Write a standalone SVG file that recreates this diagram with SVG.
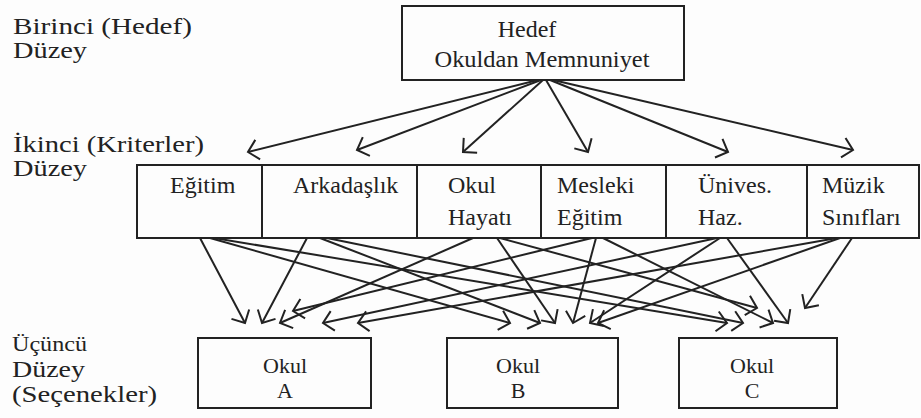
<svg xmlns="http://www.w3.org/2000/svg" width="921" height="418" viewBox="0 0 921 418" font-family="'Liberation Serif', 'Times New Roman', Tinos, serif">
<style>
text{font-family:'Liberation Serif','Times New Roman',Tinos,serif;fill:#222}
.lv{font-size:23px}
.nd{font-size:24px}
.alt{font-size:22px}
.box{fill:none;stroke:#222;stroke-width:2}
.c line{stroke:#222;stroke-width:2;marker-end:url(#ah)}
</style>
<defs>
<marker id="ah" viewBox="0 0 14 24" refX="12" refY="12" markerWidth="14" markerHeight="24" orient="auto" markerUnits="userSpaceOnUse">
<path d="M2,2 L12,12 L2,22" fill="none" stroke="#222" stroke-width="2"/>
</marker>
</defs>
<rect width="921" height="418" fill="#fdfdfd"/>
<g id="levels" class="lv">
<text x="13" y="34" textLength="179" lengthAdjust="spacingAndGlyphs">Birinci (Hedef)</text>
<text x="13" y="58" textLength="74" lengthAdjust="spacingAndGlyphs">Düzey</text>
<text x="13" y="152" textLength="191" lengthAdjust="spacingAndGlyphs">İkinci (Kriterler)</text>
<text x="13" y="176" textLength="74" lengthAdjust="spacingAndGlyphs">Düzey</text>
<text x="12" y="351" font-size="20" textLength="75" lengthAdjust="spacingAndGlyphs">Üçüncü</text>
<text x="12" y="377" textLength="73" lengthAdjust="spacingAndGlyphs">Düzey</text>
<text x="12" y="402" textLength="145" lengthAdjust="spacingAndGlyphs">(Seçenekler)</text>
</g>
<g id="goal" class="nd">
<rect class="box" x="402" y="6" width="282" height="74"/>
<text x="527" y="37" text-anchor="middle">Hedef</text>
<text x="542" y="67" text-anchor="middle" textLength="215" lengthAdjust="spacingAndGlyphs">Okuldan Memnuniyet</text>
</g>
<g id="c-egitim" class="nd">
<rect class="box" x="137" y="165" width="125" height="73"/>
<text x="170" y="193">Eğitim</text>
</g>
<g id="c-arkadaslik" class="nd">
<rect class="box" x="262" y="165" width="155" height="73"/>
<text x="293" y="193">Arkadaşlık</text>
</g>
<g id="c-okulhayati" class="nd">
<rect class="box" x="417" y="165" width="124" height="73"/>
<text x="448" y="193">Okul</text>
<text x="448" y="225">Hayatı</text>
</g>
<g id="c-meslekiegitim" class="nd">
<rect class="box" x="541" y="165" width="125" height="73"/>
<text x="557" y="193">Mesleki</text>
<text x="557" y="225">Eğitim</text>
</g>
<g id="c-univhaz" class="nd">
<rect class="box" x="666" y="165" width="141" height="73"/>
<text x="698" y="193">Ünives.</text>
<text x="698" y="225">Haz.</text>
</g>
<g id="c-muzik" class="nd">
<rect class="box" x="807" y="165" width="112" height="73"/>
<text x="822" y="193">Müzik</text>
<text x="822" y="225">Sınıfları</text>
</g>
<g id="alt-a" class="alt">
<rect class="box" x="198" y="338" width="173" height="70"/>
<text x="285" y="373" text-anchor="middle">Okul</text>
<text x="285" y="398" text-anchor="middle">A</text>
</g>
<g id="alt-b" class="alt">
<rect class="box" x="447" y="338" width="171" height="70"/>
<text x="518" y="373" text-anchor="middle">Okul</text>
<text x="518" y="398" text-anchor="middle">B</text>
</g>
<g id="alt-c" class="alt">
<rect class="box" x="679" y="338" width="158" height="70"/>
<text x="752" y="373" text-anchor="middle">Okul</text>
<text x="752" y="398" text-anchor="middle">C</text>
</g>
<g id="connectors" class="c">
<line x1="538" y1="80" x2="248" y2="152"/>
<line x1="541" y1="80" x2="357" y2="150"/>
<line x1="543" y1="80" x2="463" y2="152"/>
<line x1="546" y1="80" x2="588" y2="152"/>
<line x1="550" y1="80" x2="728" y2="152"/>
<line x1="553" y1="80" x2="853" y2="150"/>

<line x1="200" y1="238" x2="245" y2="323"/>
<line x1="307" y1="238" x2="262" y2="323"/>
<line x1="473" y1="238" x2="280" y2="323"/>
<line x1="592" y1="238" x2="293" y2="311"/>
<line x1="717" y1="238" x2="323" y2="323"/>
<line x1="837" y1="238" x2="358" y2="323"/>

<line x1="210" y1="238" x2="510" y2="323"/>
<line x1="320" y1="238" x2="540" y2="323"/>
<line x1="497" y1="238" x2="555" y2="323"/>
<line x1="596" y1="238" x2="573" y2="323"/>
<line x1="720" y1="238" x2="590" y2="323"/>
<line x1="840" y1="238" x2="598" y2="323"/>

<line x1="214" y1="238" x2="727" y2="323"/>
<line x1="327" y1="238" x2="743" y2="323"/>
<line x1="500" y1="238" x2="757" y2="308"/>
<line x1="603" y1="238" x2="773" y2="323"/>
<line x1="727" y1="238" x2="788" y2="323"/>
<line x1="852" y1="238" x2="805" y2="308"/>
</g>
</svg>
